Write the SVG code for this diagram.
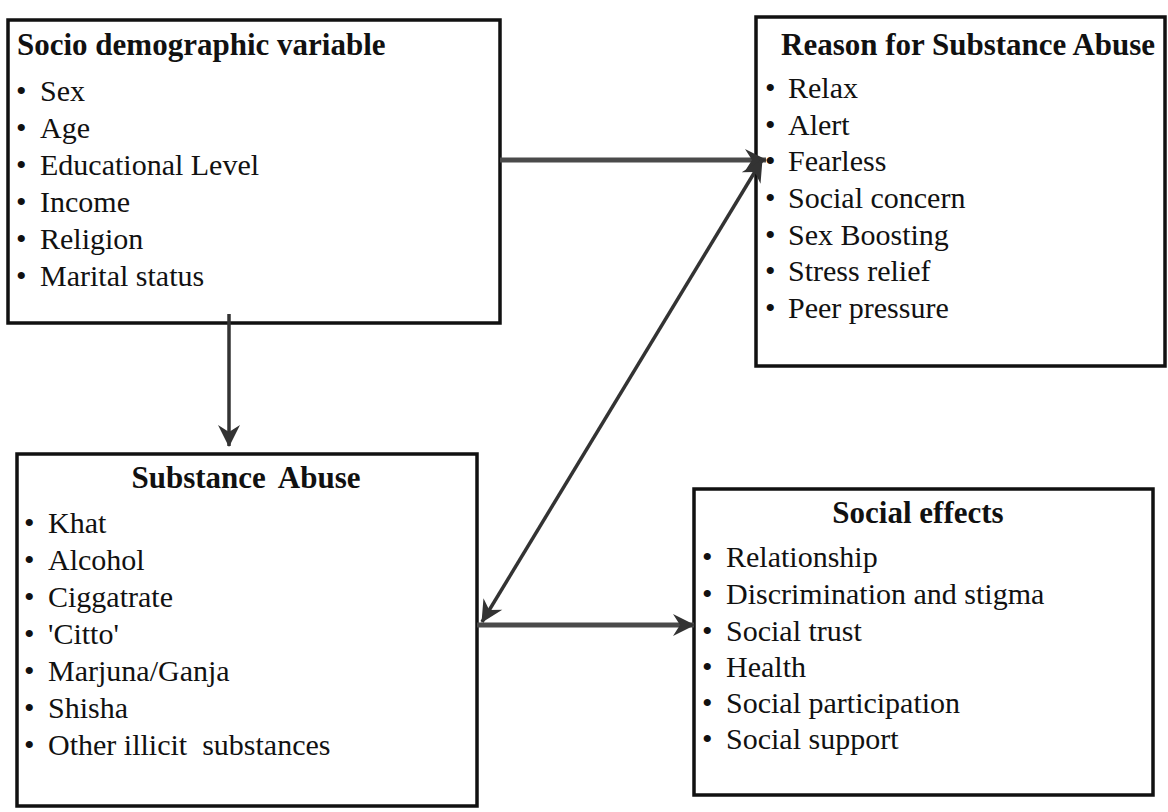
<svg xmlns="http://www.w3.org/2000/svg" width="1168" height="812" viewBox="0 0 1168 812">
<style>
.box{fill:#fff;stroke:#111;stroke-width:3.5}
.t{font-family:"Liberation Serif","Times New Roman",serif;font-size:30px;fill:#111}
.h{font-family:"Liberation Serif","Times New Roman",serif;font-size:31px;font-weight:bold;fill:#111}
.c{fill:none;stroke:#333;stroke-width:3.5}
.cw{fill:none;stroke:#4a4a4a;stroke-width:5}
</style>
<defs>
<marker id="ah" viewBox="0 0 24 24" refX="22" refY="12" markerWidth="24" markerHeight="24" markerUnits="userSpaceOnUse" orient="auto-start-reverse">
<path d="M1,1 L23,12 L1,23 L8,12 Z" fill="#333"/>
</marker>
</defs>
<rect width="1168" height="812" fill="#fff"/>
<g id="socio">
<rect class="box" x="8" y="20" width="492" height="303"/>
<text class="h" x="17" y="55">Socio demographic variable</text>
<g class="t">
<text x="16" y="101">•</text><text x="40" y="101">Sex</text>
<text x="16" y="138">•</text><text x="40" y="138">Age</text>
<text x="16" y="175">•</text><text x="40" y="175">Educational Level</text>
<text x="16" y="212">•</text><text x="40" y="212">Income</text>
<text x="16" y="249">•</text><text x="40" y="249">Religion</text>
<text x="16" y="286">•</text><text x="40" y="286">Marital status</text>
</g>
</g>
<g id="reason">
<rect class="box" x="756" y="17" width="409" height="349"/>
<text class="h" x="781" y="55">Reason for Substance Abuse</text>
<g class="t">
<text x="765" y="98">•</text><text x="788" y="98">Relax</text>
<text x="765" y="135">•</text><text x="788" y="135">Alert</text>
<text x="765" y="171">•</text><text x="788" y="171">Fearless</text>
<text x="765" y="208">•</text><text x="788" y="208">Social concern</text>
<text x="765" y="245">•</text><text x="788" y="245">Sex Boosting</text>
<text x="765" y="281">•</text><text x="788" y="281">Stress relief</text>
<text x="765" y="318">•</text><text x="788" y="318">Peer pressure</text>
</g>
</g>
<g id="substance">
<rect class="box" x="17" y="454" width="460" height="352"/>
<text class="h" x="246" y="488" text-anchor="middle" word-spacing="6">Substance Abuse</text>
<g class="t">
<text x="24" y="533">•</text><text x="48" y="533">Khat</text>
<text x="24" y="570">•</text><text x="48" y="570">Alcohol</text>
<text x="24" y="607">•</text><text x="48" y="607">Ciggatrate</text>
<text x="24" y="644">•</text><text x="48" y="644">'Citto'</text>
<text x="24" y="681">•</text><text x="48" y="681">Marjuna/Ganja</text>
<text x="24" y="718">•</text><text x="48" y="718">Shisha</text>
<text x="24" y="755">•</text><text x="48" y="755">Other illicit&#160; substances</text>
</g>
</g>
<g id="social">
<rect class="box" x="694" y="489" width="459" height="306"/>
<text class="h" x="918" y="523" text-anchor="middle">Social effects</text>
<g class="t">
<text x="702" y="567">•</text><text x="726" y="567">Relationship</text>
<text x="702" y="604">•</text><text x="726" y="604">Discrimination and stigma</text>
<text x="702" y="641">•</text><text x="726" y="641">Social trust</text>
<text x="702" y="677">•</text><text x="726" y="677">Health</text>
<text x="702" y="713">•</text><text x="726" y="713">Social participation</text>
<text x="702" y="749">•</text><text x="726" y="749">Social support</text>
</g>
</g>
<g id="connectors">
<line class="c" x1="229" y1="314" x2="229" y2="446" marker-end="url(#ah)"/>
<line class="cw" x1="500" y1="160" x2="766" y2="160" marker-end="url(#ah)"/>
<line class="c" x1="762" y1="160" x2="482" y2="622" marker-start="url(#ah)" marker-end="url(#ah)"/>
<line class="cw" x1="477" y1="625" x2="694" y2="625" marker-end="url(#ah)"/>
</g>
</svg>
